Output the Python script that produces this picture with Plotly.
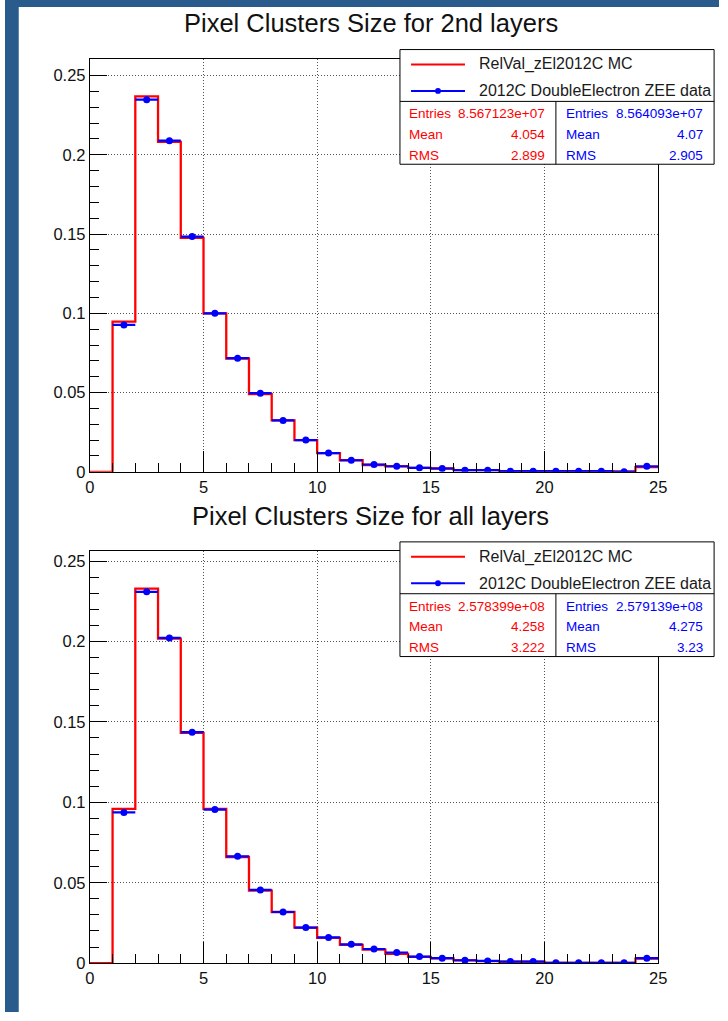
import plotly.graph_objects as go

W, H = 728, 1021

# ---------------- data ----------------
bin_edges = list(range(0, 26))
bin_centers = [e + 0.5 for e in range(25)]

mc_2nd = [0.0, 0.0948, 0.2369, 0.2082, 0.1476, 0.0999, 0.0715, 0.0490, 0.0324, 0.0200,
          0.0118, 0.0073, 0.0043, 0.0034, 0.0025, 0.0021, 0.0010, 0.0010, 0.0004, 0.0004,
          0.0004, 0.0004, 0.0004, 0.0001, 0.0030]
data_2nd = [None, 0.0927, 0.2348, 0.2089, 0.1484, 0.1000, 0.0717, 0.0496, 0.0324, 0.0200,
            0.0118, 0.0073, 0.0046, 0.0035, 0.0025, 0.0021, 0.0010, 0.0010, 0.0004, 0.0004,
            0.0004, 0.0004, 0.0004, 0.0001, 0.0035]
mc_all = [0.0, 0.0959, 0.2329, 0.2018, 0.1432, 0.0959, 0.0660, 0.0451, 0.0318, 0.0221,
          0.0157, 0.0113, 0.0084, 0.0057, 0.0039, 0.0029, 0.0017, 0.0013, 0.0010, 0.0010,
          0.0002, 0.0002, 0.0002, 0.0002, 0.0028]
data_all = [None, 0.0937, 0.2309, 0.2022, 0.1436, 0.0955, 0.0664, 0.0455, 0.0318, 0.0221,
            0.0160, 0.0117, 0.0088, 0.0066, 0.0041, 0.0031, 0.0018, 0.0014, 0.0010, 0.0010,
            0.0002, 0.0002, 0.0002, 0.0002, 0.0031]

titles = ["Pixel Clusters Size for 2nd layers", "Pixel Clusters Size for all layers"]
legend_labels = ["RelVal_zEl2012C MC", "2012C DoubleElectron ZEE data"]
stat_names = ["Entries", "Mean", "RMS"]
stats_mc_2nd = ["8.567123e+07", "4.054", "2.899"]
stats_data_2nd = ["8.564093e+07", "4.07", "2.905"]
stats_mc_all = ["2.578399e+08", "4.258", "3.222"]
stats_data_all = ["2.579139e+08", "4.275", "3.23"]

RED = "#FF0000"
BLUE = "#0000FF"
FONT = "Liberation Sans, Arial, Helvetica, sans-serif"


def px(x):
    return x / W


def py(y):
    return 1 - y / H


fig = go.Figure()

panels = [
    dict(mc=mc_2nd, data=data_2nd, title=titles[0], smc=stats_mc_2nd, sdata=stats_data_2nd,
         top=59.3, bottom=476.0, ymax=0.2606, dy=0.0, ty=23),
    dict(mc=mc_all, data=data_all, title=titles[1], smc=stats_mc_all, sdata=stats_data_all,
         top=556.0, bottom=971.7, ymax=0.2562, dy=496.7, ty=521),
]

shapes = []
annotations = []

# blue frame of the page
shapes.append(dict(type="rect", xref="paper", yref="paper", x0=0, x1=px(14), y0=0, y1=1,
                   fillcolor="#2A5B8D", line=dict(width=0), layer="above"))
shapes.append(dict(type="rect", xref="paper", yref="paper", x0=0, x1=1, y0=py(7), y1=1,
                   fillcolor="#2A5B8D", line=dict(width=0), layer="above"))

for i, p in enumerate(panels):
    n = "" if i == 0 else str(i + 1)
    xa = "x" + n
    ya = "y" + n
    # MC histogram (step)
    fig.add_trace(go.Scatter(
        x=bin_edges, y=p["mc"] + [p["mc"][-1]], mode="lines",
        line=dict(color=RED, width=2.3, shape="hv"),
        xaxis=xa, yaxis=ya, showlegend=False, hoverinfo="skip"))
    # data points
    fig.add_trace(go.Scatter(
        x=bin_centers, y=p["data"], mode="markers",
        marker=dict(color=BLUE, size=7),
        error_x=dict(type="constant", value=0.5, thickness=2.2, width=0, color=BLUE),
        xaxis=xa, yaxis=ya, showlegend=False, hoverinfo="skip"))

    axis_common = dict(
        showline=True, linecolor="black", linewidth=1, mirror=True,
        ticks="inside", tickcolor="black", tickwidth=1,
        showgrid=True, gridcolor="rgba(40,40,40,0.8)", griddash="1px,2px", gridwidth=1,
        zeroline=False, tickfont=dict(family=FONT, size=16.5, color="#111"),
    )
    fig.layout["xaxis" + n] = dict(
        axis_common, domain=[px(86.5), px(666)], range=[0, 25],
        tickmode="linear", tick0=0, dtick=5, ticklen=21,
        minor=dict(dtick=1, ticks="inside", ticklen=9, tickcolor="black", showgrid=False),
        anchor=ya)
    fig.layout["yaxis" + n] = dict(
        axis_common, domain=[py(p["bottom"]), py(p["top"])], range=[0, p["ymax"]],
        tickmode="linear", tick0=0, dtick=0.05, ticklen=17,
        minor=dict(dtick=0.01, ticks="inside", ticklen=9, tickcolor="black", showgrid=False),
        anchor=xa)

    # title
    annotations.append(dict(text=p["title"], xref="paper", yref="paper", x=px(373), y=py(p["ty"]),
                            xanchor="center", yanchor="middle", showarrow=False,
                            font=dict(family=FONT, size=25.5, color="#111")))

    dy = p["dy"]
    bx0, bx1 = 402.7, 723.0
    btop, bsep, bbot = 50.0 + dy, 102.3 + dy, 165.7 + dy
    # legend box
    shapes.append(dict(type="rect", xref="paper", yref="paper", x0=px(bx0), x1=px(bx1),
                       y0=py(bbot), y1=py(btop), fillcolor="white",
                       line=dict(color="black", width=1), layer="above"))
    shapes.append(dict(type="line", xref="paper", yref="paper", x0=px(bx0), x1=px(bx1),
                       y0=py(bsep), y1=py(bsep), line=dict(color="black", width=1), layer="above"))
    shapes.append(dict(type="line", xref="paper", yref="paper", x0=px(561.7), x1=px(561.7),
                       y0=py(bsep), y1=py(bbot), line=dict(color="black", width=1), layer="above"))
    # legend entries
    r1, r2 = 65.0 + dy, 91.7 + dy
    shapes.append(dict(type="line", xref="paper", yref="paper", x0=px(414), x1=px(469),
                       y0=py(r1), y1=py(r1), line=dict(color=RED, width=2), layer="above"))
    shapes.append(dict(type="line", xref="paper", yref="paper", x0=px(414), x1=px(469),
                       y0=py(r2), y1=py(r2), line=dict(color=BLUE, width=2), layer="above"))
    shapes.append(dict(type="circle", xref="paper", yref="paper", x0=px(438.5), x1=px(444.5),
                       y0=py(r2 + 3), y1=py(r2 - 3), fillcolor=BLUE,
                       line=dict(color=BLUE, width=0), layer="above"))
    for lab, ry in zip(legend_labels, [r1, r2]):
        annotations.append(dict(text=lab, xref="paper", yref="paper", x=px(481.5), y=py(ry),
                                xanchor="left", yanchor="middle", showarrow=False,
                                font=dict(family=FONT, size=16, color="#1a1a1a")))
    # stats
    srows = [115.0 + dy, 135.7 + dy, 157.0 + dy]
    for name, vm, vd, sy in zip(stat_names, p["smc"], p["sdata"], srows):
        annotations.append(dict(text=name, xref="paper", yref="paper", x=px(409.5), y=py(sy),
                                xanchor="left", yanchor="middle", showarrow=False,
                                font=dict(family=FONT, size=13.5, color=RED)))
        annotations.append(dict(text=vm, xref="paper", yref="paper", x=px(553), y=py(sy),
                                xanchor="right", yanchor="middle", showarrow=False,
                                font=dict(family=FONT, size=13.5, color=RED)))
        annotations.append(dict(text=name, xref="paper", yref="paper", x=px(569.5), y=py(sy),
                                xanchor="left", yanchor="middle", showarrow=False,
                                font=dict(family=FONT, size=13.5, color=BLUE)))
        annotations.append(dict(text=vd, xref="paper", yref="paper", x=px(713.5), y=py(sy),
                                xanchor="right", yanchor="middle", showarrow=False,
                                font=dict(family=FONT, size=13.5, color=BLUE)))

fig.update_layout(
    width=W, height=H, margin=dict(l=0, r=0, t=0, b=0, pad=0),
    paper_bgcolor="white", plot_bgcolor="white",
    shapes=shapes, annotations=annotations, showlegend=False,
    font=dict(family=FONT),
)

fig.write_html(
    "out.html",
    config=dict(displayModeBar=False),
    post_script="document.body.style.margin='0';document.body.style.overflow='hidden';",
)
